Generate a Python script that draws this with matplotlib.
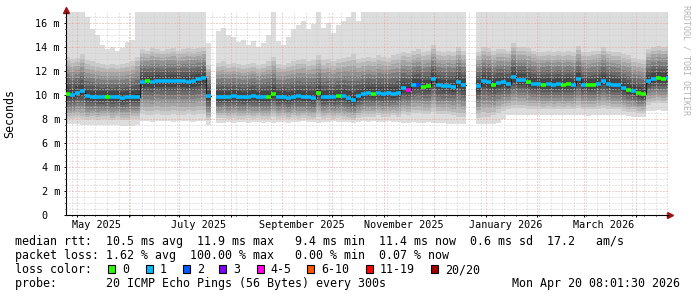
import numpy as np
import pandas as pd
import matplotlib
matplotlib.use('Agg')
import matplotlib.pyplot as plt
import matplotlib.dates as mdates
import matplotlib.transforms as mtransforms
from matplotlib.patches import Rectangle

nan = np.nan

# one consolidated sample every 3 days
dates = pd.date_range('2025-04-24', periods=121, freq='3D')

# median rtt (ms)
median = [10.1, 10.0, 10.2, 10.3, 9.9, 9.85, 9.85, 9.8, 9.85, 9.8,
          9.85, 9.75, 9.8, 9.85, 9.85, 11.1, 11.15, 11.1, 11.2, 11.15,
          11.2, 11.15, 11.2, 11.15, 11.1, 11.2, 11.3, 11.4, 9.9, nan,
          9.8, 9.85, 9.85, 9.9, 9.85, 9.8, 9.85, 9.9, 9.8, 9.85,
          9.85, 10.1, 9.8, 9.85, 9.75, 9.85, 9.9, 9.8, 9.85, 9.75,
          10.2, 9.8, 9.85, 9.8, 9.9, 9.9, 9.75, 9.6, 9.9, 10.05,
          10.15, 10.1, 10.15, 10.1, 10.15, 10.1, 10.2, 10.55, 10.45, 10.8,
          10.85, 10.7, 10.75, 11.3, 10.8, 10.75, 10.75, 10.7, 11.1, 10.8,
          nan, nan, 10.75, 11.2, 11.1, 10.85, 11.0, 11.05, 10.95, 11.5,
          11.25, 11.25, 11.1, 10.95, 10.9, 10.85, 10.9, 10.85, 10.9, 10.85,
          10.9, 10.85, 11.3, 10.85, 10.8, 10.85, 10.95, 11.2, 10.95, 10.85,
          10.8, 10.6, 10.45, 10.3, 10.15, 10.05, 11.2, 11.35, 11.4, 11.35,
          11.4]

# fastest / 2nd fastest / 19th / slowest of the 20 pings (ms)
ping_min = [7.6, 7.6, 7.6, 7.5, 7.5, 7.5, 7.5, 7.5, 7.5, 7.5,
            7.5, 7.45, 7.45, 7.45, 7.5, 7.8, 7.8, 7.75, 7.8, 7.8,
            7.8, 7.75, 7.8, 7.8, 7.8, 7.75, 7.8, 7.8, 7.5, nan,
            7.7, 7.7, 7.75, 7.7, 7.75, 7.75, 7.7, 7.75, 7.75, 7.7,
            7.75, 7.7, 7.75, 7.75, 7.7, 7.75, 7.75, 7.8, 7.75, 7.75,
            7.7, 7.75, 7.75, 7.8, 7.75, 7.75, 7.75, 7.7, 7.75, 7.8,
            7.75, 7.8, 7.75, 7.75, 7.8, 7.75, 7.75, 7.7, 7.7, 7.75,
            7.7, 7.7, 7.75, 7.7, 7.7, 7.65, 7.6, 7.6, 7.6, 7.6,
            nan, nan, 7.55, 7.55, 7.6, 7.6, 7.65, 8.0, 8.3, 8.3,
            8.3, 8.3, 8.3, 8.3, 8.3, 8.3, 8.3, 8.3, 8.3, 8.3,
            8.3, 8.3, 8.3, 8.3, 8.25, 8.3, 8.3, 8.3, 8.3, 8.3,
            8.3, 8.3, 8.25, 8.2, 8.2, 8.2, 8.7, 8.7, 8.75, 8.7,
            8.7]
ping_2nd = [8.0, 8.0, 8.1, 8.0, 7.9, 8.0, 7.9, 8.0, 8.0, 7.9,
            8.0, 7.9, 7.9, 8.0, 8.0, 8.4, 8.3, 8.3, 8.4, 8.3,
            8.3, 8.4, 8.3, 8.3, 8.4, 8.3, 8.4, 8.4, 7.9, nan,
            8.1, 8.1, 8.0, 8.1, 8.0, 8.0, 8.1, 8.0, 8.1, 8.0,
            8.0, 8.2, 8.0, 8.1, 8.0, 8.1, 8.0, 8.1, 8.0, 8.0,
            8.2, 8.0, 8.1, 8.0, 8.1, 8.0, 8.0, 7.9, 8.1, 8.2,
            8.2, 8.2, 8.3, 8.2, 8.2, 8.3, 8.2, 8.4, 8.3, 8.5,
            8.5, 8.4, 8.4, 8.6, 8.4, 8.4, 8.4, 8.3, 8.2, 8.2,
            nan, nan, 8.1, 8.2, 8.2, 8.3, 8.5, 8.7, 8.8, 8.9,
            8.9, 8.9, 8.8, 8.8, 8.8, 8.8, 8.8, 8.8, 8.8, 8.8,
            8.8, 8.8, 8.9, 8.8, 8.8, 8.8, 8.8, 8.9, 8.8, 8.8,
            8.8, 8.7, 8.6, 8.6, 8.5, 8.5, 9.2, 9.3, 9.3, 9.3,
            9.3]
ping_19th = [13.2, 13.0, 13.1, 13.4, 12.9, 12.8, 12.7, 12.6, 12.5, 12.6,
             12.5, 12.6, 12.7, 12.8, 13.2, 13.8, 13.7, 13.9, 13.8, 13.7,
             13.8, 13.9, 13.7, 13.8, 13.9, 13.8, 13.9, 14.0, 12.5, nan,
             12.7, 12.8, 12.6, 12.7, 12.6, 12.5, 12.6, 12.7, 12.5, 12.6,
             12.8, 13.2, 12.6, 12.5, 12.7, 12.8, 12.9, 13.0, 12.8, 12.9,
             13.3, 12.9, 13.0, 12.8, 13.0, 13.1, 13.2, 13.4, 13.0, 13.1,
             13.2, 13.1, 13.3, 13.2, 13.1, 13.3, 13.4, 13.6, 13.5, 13.7,
             13.8, 13.6, 13.7, 14.2, 13.7, 13.6, 13.7, 13.6, 14.0, 13.7,
             nan, nan, 13.6, 14.0, 13.9, 13.7, 13.8, 13.8, 13.7, 14.3,
             14.0, 14.0, 13.9, 13.7, 13.6, 13.6, 13.7, 13.6, 13.7, 13.6,
             13.7, 13.6, 14.1, 13.6, 13.6, 13.7, 13.7, 14.0, 13.7, 13.6,
             13.6, 13.4, 13.3, 13.1, 13.0, 12.9, 13.8, 14.0, 14.1, 14.0,
             14.1]
ping_max = [17.5, 17.5, 17.5, 17.5, 16.5, 15.5, 15.0, 14.2, 13.8, 14.0,
            13.7, 13.9, 14.4, 14.6, 17.5, 17.5, 17.5, 17.5, 17.5, 17.5,
            17.5, 17.5, 17.5, 17.5, 17.5, 17.5, 17.5, 17.5, 14.3, nan,
            15.3, 15.6, 15.0, 14.8, 14.4, 14.6, 14.2, 14.5, 14.0, 14.3,
            15.0, 17.5, 14.5, 14.2, 14.8, 15.5, 15.8, 16.2, 15.5, 15.9,
            17.5, 15.6, 16.0, 15.2, 15.8, 16.2, 16.5, 17.5, 16.2, 17.5,
            17.5, 17.5, 17.5, 17.5, 17.5, 17.5, 17.5, 17.5, 17.5, 17.5,
            17.5, 17.5, 17.5, 17.5, 17.5, 17.5, 17.5, 17.5, 17.5, 17.5,
            nan, nan, 17.5, 17.5, 17.5, 17.5, 17.5, 17.5, 17.5, 17.5,
            17.5, 17.5, 17.5, 17.5, 17.5, 17.5, 17.5, 17.5, 17.5, 17.5,
            17.5, 17.5, 17.5, 17.5, 17.5, 17.5, 17.5, 17.5, 17.5, 17.5,
            17.5, 17.5, 17.5, 17.5, 17.5, 17.5, 17.5, 17.5, 17.5, 17.5,
            17.5]

# lost pings (of 20) per sample
loss = [0, 1, 1, 1, 1, 1, 1, 1, 0, 1,
        1, 1, 1, 1, 1, 1, 0, 1, 1, 1,
        1, 1, 1, 1, 1, 1, 1, 1, 1, 1,
        1, 1, 1, 1, 1, 1, 1, 1, 1, 1,
        0, 0, 1, 1, 1, 1, 1, 1, 1, 1,
        0, 1, 1, 1, 0, 1, 1, 1, 1, 1,
        1, 0, 1, 1, 1, 1, 1, 1, 4, 1,
        2, 0, 0, 1, 1, 1, 1, 1, 1, 1,
        1, 1, 1, 1, 1, 0, 1, 1, 1, 1,
        1, 1, 0, 1, 1, 0, 1, 1, 1, 0,
        0, 1, 1, 1, 0, 0, 1, 1, 1, 1,
        1, 1, 0, 1, 0, 0, 1, 1, 0, 0,
        1]

loss_labels = ['0', '1', '2', '3', '4-5', '6-10', '11-19', '20/20']
loss_colors = ['#26ff00', '#00b8ff', '#0059ff', '#7e00ff', '#ff00ea',
               '#ff5500', '#ff0000', '#a10000']
loss_upper = [0, 1, 2, 3, 5, 10, 19, 20]

month_labels = ['May 2025', 'July 2025', 'September 2025',
                'November 2025', 'January 2026', 'March 2026']
month_starts = ['2025-05-01', '2025-07-01', '2025-09-01',
                '2025-11-01', '2026-01-01', '2026-03-01']

plt.rcParams['font.family'] = 'DejaVu Sans Mono'

W, H = 697, 297
fig = plt.figure(figsize=(W / 100, H / 100), dpi=100)
ax = fig.add_axes([66 / W, 82 / H, 602 / W, 203 / H])

# step arrays: every sample covers 3 days
t0 = mdates.date2num(dates.to_pydatetime())
t1 = t0 + 3
xs = np.column_stack([t0, t1]).ravel()


def steps(v):
    return np.repeat(np.asarray(v, dtype=float), 2)


# smoke: 10 grey bands, ping k .. ping 21-k
knots = [0, 1 / 19, 0.5, 18 / 19, 1]
qs = np.array([ping_min, ping_2nd, median, ping_19th, ping_max], dtype=float)
for k in range(1, 11):
    lo = np.array([np.interp((k - 1) / 19, knots, qs[:, j]) for j in range(qs.shape[1])])
    hi = np.array([np.interp((20 - k) / 19, knots, qs[:, j]) for j in range(qs.shape[1])])
    g = int(190 / 10 * (10 - k)) + 50
    ax.fill_between(xs, steps(lo), steps(hi), color='#%02x%02x%02x' % (g, g, g),
                    linewidth=0, zorder=1)

# median line coloured by loss
seg_colors = [loss_colors[next(i for i, u in enumerate(loss_upper) if n <= u)] for n in loss]
ax.plot(xs, steps(median), color='#202020', lw=0.8, zorder=2.6)
ax.hlines(median, t0, t1, colors=seg_colors, lw=2.6, zorder=3)

start = pd.Timestamp('2025-04-24 08:00')
end = pd.Timestamp('2026-04-20 08:00')
ax.set_xlim(start, end)
ax.set_ylim(0, 203 / 12)

# grid
ax.xaxis.set_major_locator(mdates.MonthLocator())
ax.xaxis.set_minor_locator(mdates.WeekdayLocator(byweekday=mdates.MO))
ax.xaxis.set_major_formatter(plt.NullFormatter())
ax.xaxis.set_minor_formatter(plt.NullFormatter())
ax.set_yticks(range(0, 17, 2))
ax.set_yticklabels(['0  '] + ['%d m' % v for v in range(2, 17, 2)])
ax.set_yticks([v / 2 for v in range(1, 34) if v % 4], minor=True)
ax.set_axisbelow(False)
ax.grid(which='major', color='#e8a0a0', linestyle=(0, (1, 2)), lw=0.72)
ax.grid(which='minor', color='#cccccc', linestyle=(0, (1, 2)), lw=0.72)
ax.tick_params(which='major', length=1.5, width=0.72, pad=2.9, labelsize=7.3)
ax.tick_params(which='minor', length=0.8, width=0.72)

for s in ['top', 'right']:
    ax.spines[s].set_visible(False)
for s in ['left', 'bottom']:
    ax.spines[s].set_linewidth(0.8)

# axis arrows
ax.plot([0], [1.0074], marker='^', ms=5, color='#a01010', transform=ax.transAxes, clip_on=False)
ax.plot([1.004], [0], marker='>', ms=5, color='#a01010', transform=ax.transAxes, clip_on=False)

# month labels
trans = mtransforms.blended_transform_factory(ax.transData, fig.transFigure)
for lab, m in zip(month_labels, month_starts):
    x = mdates.date2num(pd.Timestamp(m) + pd.Timedelta(days=11.75))
    ax.text(x, (H - 228.3) / H, lab, transform=trans, ha='center', va='baseline', fontsize=7.3)

fig.text(10 / W, 1 - 114 / H, 'Seconds', rotation=90, ha='center', va='center', fontsize=8.4)
fig.text(686 / W, 1 - 5 / H, 'RRDTOOL / TOBI OETIKER', rotation=270, ha='center', va='top',
         fontsize=6, color='#b4b4b4')

# legend block
fs = 8.4
fig.text(15 / W, 1 - 245 / H,
         'median rtt:  10.5 ms avg  11.9 ms max   9.4 ms min  11.4 ms now  0.6 ms sd  17.2   am/s',
         fontsize=fs, va='baseline')
fig.text(15 / W, 1 - 259 / H,
         'packet loss: 1.62 % avg  100.00 % max   0.00 % min  0.07 % now',
         fontsize=fs, va='baseline')
fig.text(15 / W, 1 - 273.3 / H, 'loss color:', fontsize=fs, va='baseline')
box_x = [108.3, 145.7, 182.7, 219.3, 256.7, 307.3, 365.7, 431.0]
for bx, lab, c in zip(box_x, loss_labels, loss_colors):
    fig.patches.append(Rectangle((bx / W, 1 - 273 / H), 7 / W, 8.5 / H, transform=fig.transFigure,
                                 facecolor=c, edgecolor='black', lw=0.8))
    fig.text((bx + 14) / W, 1 - 273.3 / H, lab, fontsize=fs, va='baseline')
fig.text(15 / W, 1 - 287.3 / H, 'probe:       20 ICMP Echo Pings (56 Bytes) every 300s',
         fontsize=fs, va='baseline')
fig.text(680.5 / W, 1 - 287.3 / H, 'Mon Apr 20 08:01:30 2026', fontsize=fs, va='baseline', ha='right')

fig.savefig('out.png', dpi=100)
